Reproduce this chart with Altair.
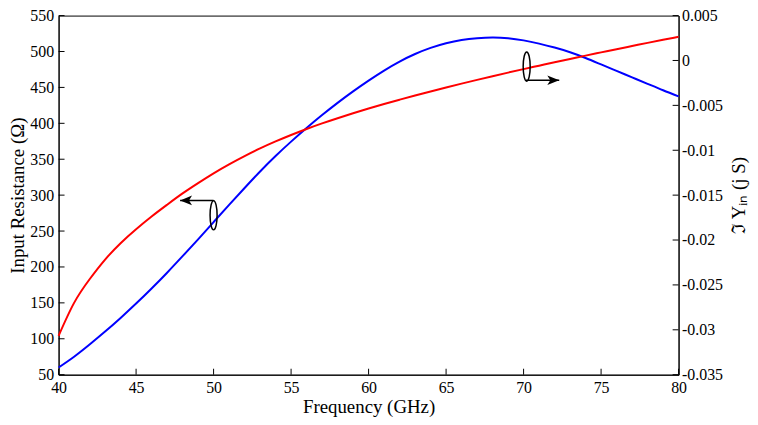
import altair as alt
import pandas as pd

# ---- data ----
freq = list(range(40, 81))  # GHz
resistance = [60, 75, 92, 110, 129, 149, 170, 192, 215, 238.5,
              262.5, 286.5, 310, 333, 354.5, 374.5, 393.5, 411.5, 428.5, 444.5,
              459.5, 473.5, 486, 496.5, 505, 511.5, 516, 518.5, 519.5, 518.5,
              515.5, 511, 505.5, 499, 491, 482, 473, 464, 455, 446,
              437.5]
im_y = [-0.03067, -0.02700, -0.02437, -0.02218, -0.02035, -0.01880, -0.01738, -0.01607, -0.01481, -0.01366,
        -0.01257, -0.01157, -0.01065, -0.00980, -0.00902, -0.00830, -0.00763, -0.00701, -0.00643, -0.00588,
        -0.00535, -0.00485, -0.00437, -0.00390, -0.00345, -0.00301, -0.00258, -0.00216, -0.00175, -0.00135,
        -0.00096, -0.00058, -0.00020, 0.00017, 0.00054, 0.00090, 0.00126, 0.00161, 0.00196, 0.00230,
        0.00264]

x_ticks = [40, 45, 50, 55, 60, 65, 70, 75, 80]
left_ticks = [50, 100, 150, 200, 250, 300, 350, 400, 450, 500, 550]
right_ticks = [-0.035, -0.03, -0.025, -0.02, -0.015, -0.01, -0.005, 0, 0.005]

# annotation markers (in frequency / resistance units)
ell_f = [50.0, 70.2]
ell_r = [272, 479]
arrow_from = [50.0, 70.15]
arrow_to = [47.84, 72.3]
arrow_r = [292.7, 460]
arrow_dir = ["left", "right"]

W, H = 625, 362
FONT = "Liberation Serif"

df = pd.DataFrame({"f": freq, "R": resistance, "B": im_y})
xs = alt.Scale(domain=[40, 80], nice=False, zero=False)
ls = alt.Scale(domain=[50, 550], nice=False, zero=False)
rs = alt.Scale(domain=[-0.035, 0.005], nice=False, zero=False)

x_axis = alt.Axis(values=x_ticks, ticks=False, title="Frequency (GHz)",
                  labelPadding=5, titlePadding=2, labelFlush=False, grid=False)


def X(field):
    return alt.X(field, scale=xs, axis=x_axis)


blue = alt.Chart(df).mark_line(color="#0000ff", strokeWidth=2, interpolate="natural").encode(
    x=X("f:Q"),
    y=alt.Y("R:Q", scale=ls, axis=alt.Axis(values=left_ticks, ticks=False, title="Input Resistance (Ω)",
                                           labelPadding=5, titlePadding=2, labelFlush=False, grid=False)),
)
red = alt.Chart(df).mark_line(color="#ff0000", strokeWidth=2, interpolate="natural").encode(
    x=X("f:Q"),
    y=alt.Y("B:Q", scale=rs, axis=alt.Axis(orient="right", values=right_ticks, ticks=False,
                                           title="ℑ Yᵢₙ (j  S)", titleAngle=-90, titleBaseline="top",
                                           labelExpr="datum.value + ''",
                                           labelPadding=3, titlePadding=7, labelFlush=False, grid=False)),
)

lt = alt.Chart(pd.DataFrame({"v": left_ticks})).mark_rule(color="black", strokeWidth=1).encode(
    y=alt.Y("v:Q", scale=ls, axis=None), x=alt.value(0), x2=alt.value(6))
rt = alt.Chart(pd.DataFrame({"v": right_ticks})).mark_rule(color="black", strokeWidth=1).encode(
    y=alt.Y("v:Q", scale=rs, axis=None), x=alt.value(W - 6), x2=alt.value(W))
bt = alt.Chart(pd.DataFrame({"v": x_ticks})).mark_rule(color="black", strokeWidth=1).encode(
    x=X("v:Q"), y=alt.value(H - 6), y2=alt.value(H))

ell_df = pd.DataFrame({"f": ell_f, "R": ell_r})
ellipses = alt.Chart(ell_df).mark_point(
    shape="M0,-1A0.24,1,0,1,1,0,1A0.24,1,0,1,1,0,-1Z", size=870,
    filled=False, stroke="black", strokeWidth=1.5, opacity=1).encode(
    x=X("f:Q"), y=alt.Y("R:Q", scale=ls, axis=None))

arr_df = pd.DataFrame({"f0": arrow_from, "f1": arrow_to, "R": arrow_r, "d": arrow_dir})
shafts = alt.Chart(arr_df).mark_rule(color="black", strokeWidth=1.5).encode(
    x=X("f0:Q"), x2="f1:Q", y=alt.Y("R:Q", scale=ls, axis=None))
head_l = alt.Chart(arr_df).transform_filter("datum.d == 'left'").mark_point(
    shape="M0,0L2,-0.8L1.5,0L2,0.8Z", size=144, filled=True, fill="black", strokeWidth=0, opacity=1).encode(
    x=X("f1:Q"), y=alt.Y("R:Q", scale=ls, axis=None))
head_r = alt.Chart(arr_df).transform_filter("datum.d == 'right'").mark_point(
    shape="M0,0L-2,-0.8L-1.5,0L-2,0.8Z", size=144, filled=True, fill="black", strokeWidth=0, opacity=1).encode(
    x=X("f1:Q"), y=alt.Y("R:Q", scale=ls, axis=None))

chart = alt.layer(blue, red, lt, rt, bt, ellipses, shafts, head_l, head_r).resolve_scale(
    y="independent").properties(
    width=W, height=H, autosize="none",
    padding={"left": 51, "top": 6, "right": 72, "bottom": 41},
).configure_axis(
    labelFont=FONT, labelFontSize=16, titleFont=FONT, titleFontSize=19, titleFontWeight="normal",
    labelColor="black", titleColor="black", domainColor="black", domainWidth=1,
).configure_view(stroke="black", strokeWidth=1)

chart.save("out.html", embed_options={"renderer": "svg", "actions": False})
